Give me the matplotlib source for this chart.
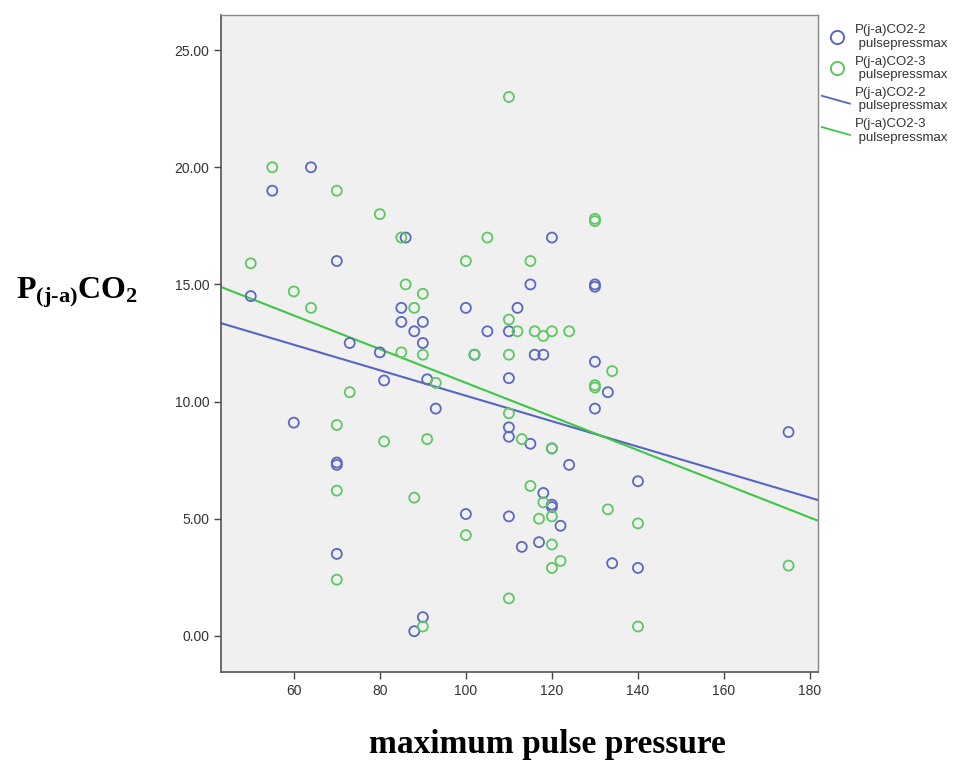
import numpy as np
import matplotlib
matplotlib.use("Agg")
import matplotlib.pyplot as plt
from matplotlib.lines import Line2D
from matplotlib.legend_handler import HandlerBase

plt.rcParams["mathtext.fontset"] = "custom"
plt.rcParams["mathtext.rm"] = "Liberation Serif:bold"
plt.rcParams["mathtext.bf"] = "Liberation Serif:bold"
plt.rcParams["mathtext.it"] = "Liberation Serif:bold"

# P(j-a)CO2-2 vs max pulse pressure
x2 = [50, 55, 60, 64, 70, 70, 70, 70, 73, 80, 81, 85, 85, 86, 88, 88, 90, 90, 90, 91,
      93, 100, 100, 102, 105, 110, 110, 110, 110, 110, 112, 113, 115, 115, 116, 118,
      117, 118, 120, 120, 120, 120, 122, 124, 130, 130, 130, 130, 133, 134, 140, 140, 175]
y2 = [14.5, 19.0, 9.1, 20.0, 16.0, 7.4, 7.3, 3.5, 12.5, 12.1, 10.9, 14.0, 13.4, 17.0, 13.0, 0.2,
      13.4, 12.5, 0.8, 10.95, 9.7, 14.0, 5.2, 12.0, 13.0, 13.0, 11.0, 8.9, 8.5, 5.1, 14.0, 3.8,
      15.0, 8.2, 12.0, 12.0, 4.0, 6.1, 17.0, 8.0, 5.6, 5.5, 4.7, 7.3, 15.0, 14.9, 11.7, 9.7,
      10.4, 3.1, 6.6, 2.9, 8.7]

# P(j-a)CO2-3 vs max pulse pressure
x3 = [50, 55, 60, 64, 70, 70, 70, 70, 73, 80, 81, 85, 85, 86, 88, 88, 90, 90, 90, 91,
      93, 100, 100, 102, 105, 110, 110, 110, 110, 110, 112, 113, 115, 115, 116, 117, 118,
      118, 120, 120, 120, 120, 120, 122, 124, 130, 130, 130, 130, 133, 134, 140, 140, 175]
y3 = [15.9, 20.0, 14.7, 14.0, 19.0, 9.0, 6.2, 2.4, 10.4, 18.0, 8.3, 17.0, 12.1, 15.0, 14.0, 5.9,
      14.6, 12.0, 0.4, 8.4, 10.8, 16.0, 4.3, 12.0, 17.0, 23.0, 13.5, 12.0, 9.5, 1.6, 13.0, 8.4,
      16.0, 6.4, 13.0, 5.0, 12.8, 5.7, 13.0, 8.0, 5.1, 3.9, 2.9, 3.2, 13.0, 17.8, 17.7, 10.7,
      10.6, 5.4, 11.3, 4.8, 0.4, 3.0]

# Fit lines (intercept at x=0, slope)
fit2 = (15.69, -0.0544)
fit3 = (17.99, -0.0719)

xticks = [60, 80, 100, 120, 140, 160, 180]
yticks = [0, 5, 10, 15, 20, 25]
legend_labels = ["P(j-a)CO2-2\n pulsepressmax", "P(j-a)CO2-3\n pulsepressmax",
                 "P(j-a)CO2-2\n pulsepressmax", "P(j-a)CO2-3\n pulsepressmax"]

c_blue = "#5B68C0"
c_green = "#5DC862"
l_blue = "#5565C4"
l_green = "#3EC646"


class DiagHandler(HandlerBase):
    def create_artists(self, legend, orig_handle, xdescent, ydescent, width, height,
                       fontsize, trans):
        ln = Line2D([-xdescent - 4, width - xdescent + 2],
                    [height * 0.9 - ydescent, height * 0.05 - ydescent],
                    color=orig_handle.get_color(), lw=orig_handle.get_linewidth())
        ln.set_transform(trans)
        return [ln]


fig = plt.figure(figsize=(9.57, 7.63), dpi=100)
ax = fig.add_axes([0.231, 0.1193, 0.624, 0.8611])
ax.set_facecolor("#F0F0F0")

xmin, xmax = 43.1, 181.9
ax.set_xlim(xmin, xmax)
ax.set_ylim(-1.54, 26.5)

ax.scatter(x2, y2, s=52, facecolors="none", edgecolors=c_blue, linewidths=1.3, zorder=3)
ax.scatter(x3, y3, s=52, facecolors="none", edgecolors=c_green, linewidths=1.3, zorder=3)

xl = np.array([xmin, xmax])
ax.plot(xl, fit2[0] + fit2[1] * xl, color=l_blue, lw=1.5, zorder=2)
ax.plot(xl, fit3[0] + fit3[1] * xl, color=l_green, lw=1.5, zorder=2)

ax.set_xticks(xticks)
ax.set_yticks(yticks)
ax.set_yticklabels([f"{v:.2f}" for v in yticks])
ax.tick_params(direction="out", length=5, width=1, color="#444444",
               labelsize=10, labelcolor="#333333")
for lab in ax.get_xticklabels() + ax.get_yticklabels():
    lab.set_family("Liberation Sans")
for sp in ["left", "bottom"]:
    ax.spines[sp].set_color("#555555")
    ax.spines[sp].set_linewidth(1.2)
for sp in ["top", "right"]:
    ax.spines[sp].set_color("#888888")
    ax.spines[sp].set_linewidth(1.0)

fig.text(0.572, 0.024, "maximum pulse pressure", ha="center", va="center",
         family="Liberation Serif", fontweight="bold", fontsize=24)
fig.text(0.017, 0.616, r"$\mathrm{P}_{\mathrm{(j\text{-}a)}}\mathrm{CO}_{\mathrm{2}}$",
         ha="left", va="center", fontsize=23)

handles = [
    Line2D([], [], marker="o", ls="none", mfc="none", mec=c_blue, mew=1.4, ms=9.5),
    Line2D([], [], marker="o", ls="none", mfc="none", mec=c_green, mew=1.4, ms=9.5),
    Line2D([], [], color=l_blue, lw=1.3),
    Line2D([], [], color=l_green, lw=1.3),
]
leg = fig.legend(handles, legend_labels, loc="upper left", bbox_to_anchor=(0.859, 0.975),
                 frameon=False, prop={"family": "Liberation Sans", "size": 9.5},
                 handlelength=1.5, handletextpad=0.6, labelspacing=0.45, borderaxespad=0,
                 handler_map={handles[2]: DiagHandler(), handles[3]: DiagHandler()})
for t in leg.get_texts():
    t.set_color("#333333")
    t.set_linespacing(1.15)

fig.savefig("out.png", dpi=100, facecolor="white")
